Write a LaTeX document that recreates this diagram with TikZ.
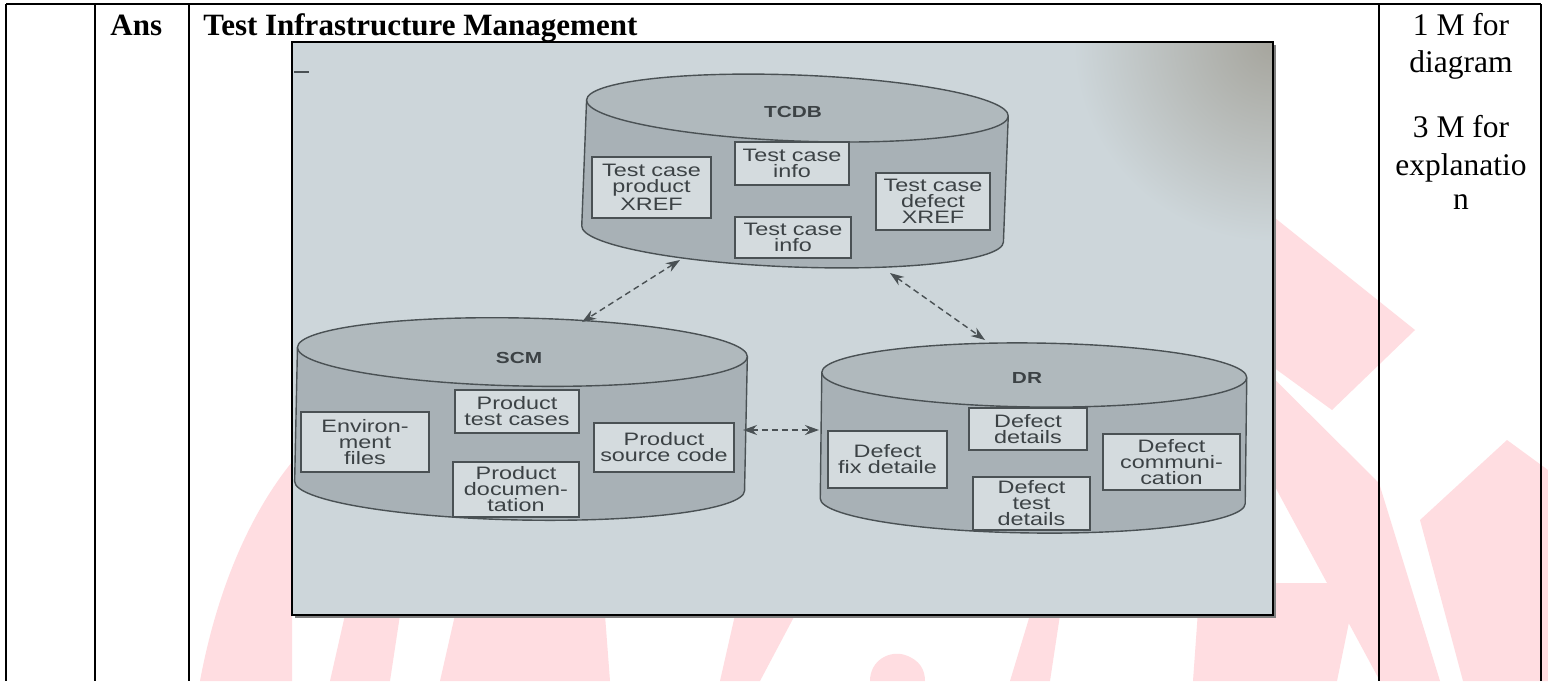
\documentclass[tikz,border=0pt]{standalone}
\usepackage{fontspec}
\setmainfont{Liberation Serif}
\newfontfamily\dfont[FakeStretch=1.3]{Liberation Sans}
\usetikzlibrary{arrows.meta}

\definecolor{wmark}{HTML}{FFDDE1}
\definecolor{photobg}{HTML}{CDD6DA}
\definecolor{photodark}{HTML}{A6A59D}
\definecolor{cylbody}{HTML}{A8B1B6}
\definecolor{cyltop}{HTML}{B0B9BD}
\definecolor{boxfill}{HTML}{D4DBDE}
\definecolor{ink}{HTML}{4A5154}
\definecolor{txt}{HTML}{3C4245}

\tikzset{
  rule/.style={line width=0.75pt, black},
  cylout/.style={draw=ink, line width=0.7pt},
  item/.style={draw=ink, fill=boxfill, line width=0.6pt, inner sep=0pt,
    align=center, text=txt, font=\dfont\fontsize{9pt}{8pt}\selectfont},
  dblabel/.style={text=txt, font=\dfont\bfseries\fontsize{8pt}{8pt}\selectfont},
  link/.style={draw=ink, line width=0.7pt, dash pattern=on 3pt off 2pt,
    {Stealth[length=7pt,width=5pt]}-{Stealth[length=7pt,width=5pt]}},
  head/.style={anchor=base west, inner sep=0pt, font=\bfseries\fontsize{15.5pt}{18pt}\selectfont},
  marktext/.style={anchor=base, inner sep=0pt, font=\fontsize{15.75pt}{18pt}\selectfont},
}

% cylinder: cx, y of top ellipse centre, y of bottom ellipse centre, half width (px), x radius (pt), y radius (pt), tilt (deg)
\newcommand\dbcyl[7]{%
  \begin{scope}[rotate around={#7:(#1,#2/2+#3/2)}]
  \fill[cylbody] (#1-#4,#2) rectangle (#1+#4,#3);
  \fill[cylbody] (#1,#3) ellipse [x radius=#5, y radius=#6];
  \draw[cylout] (#1-#4,#2) -- (#1-#4,#3)
     arc[start angle=180, end angle=360, x radius=#5, y radius=#6] -- (#1+#4,#2);
  \filldraw[cylout, fill=cyltop] (#1,#2) ellipse [x radius=#5, y radius=#6];
  \end{scope}
}

\begin{document}
\begin{tikzpicture}[x=0.5pt,y=-0.5pt]
\useasboundingbox (0,0) rectangle (1548,681);
\fill[white] (0,0) rectangle (1548,681);

% watermark shapes in the background
\fill[wmark] (200,681) .. controls (215,600) and (245,520) .. (292,462) -- (292,681) -- cycle;
\fill[wmark] (330,681) -- (345,615) -- (400,615) -- (390,681) -- cycle;
\fill[wmark] (440,681) -- (455,615) -- (605,615) -- (610,681) -- cycle;
\fill[wmark] (720,681) -- (735,615) -- (795,615) -- (760,681) -- cycle;
\fill[wmark] (870,681) .. controls (870,660) and (890,650) .. (905,655) .. controls (920,660) and (925,670) .. (925,681) -- cycle;
\fill[wmark] (1010,681) -- (1030,615) -- (1060,615) -- (1050,681) -- cycle;
\fill[wmark] (1240,190) -- (1415,330) -- (1332,410) -- (1273,367) -- (1240,335) -- cycle;
\fill[wmark] (1240,345) -- (1379,483) -- (1440,681) -- (1380,681) -- (1273,483) -- (1240,440) -- cycle;
\fill[wmark] (1420,520) -- (1507,440) -- (1548,470) -- (1548,681) -- (1463,681) -- cycle;
\fill[wmark] (1200,583) -- (1357,583) -- (1337,681) -- (1193,681) -- cycle;

% table rules
\draw[rule] (6,4) -- (1541,4);
\foreach \x in {6,95,189,1379,1541} \draw[rule] (\x,4) -- (\x,681);

% cell texts
\node[head] (ans) at (110,35) {Ans};
\node[head] (title) at (203,35) {Test Infrastructure Management};
\node[marktext] (m1a) at (1461,35) {1 M for};
\node[marktext] (m1b) at (1461,72) {diagram};
\node[marktext] (m3a) at (1461,137) {3 M for};
\node[marktext] (m3b) at (1461,175) {explanatio};
\node[marktext] (m3c) at (1461,209) {n};

% photographed figure
\fill[photobg] (292,42) rectangle (1273,615);
\begin{scope}
  \clip (292,42) rectangle (1273,615);
  \shade[inner color=photodark, outer color=photobg] (1273,42) circle (100pt);
\end{scope}
\draw[gray, line width=1pt] (295,617) -- (1275,617) -- (1275,45);
\draw[black, line width=1pt] (292,42) rectangle (1273,615);
\draw[ink, line width=0.7pt] (294,72) -- (309,72);

% databases
\dbcyl{795}{108}{234}{211}{105.5pt}{16.5pt}{-2.2}
\dbcyl{521}{352}{486}{225}{112.5pt}{17pt}{-1.2}
\dbcyl{1033.5}{375}{501}{212.5}{106.25pt}{16pt}{-0.7}

\node[dblabel] (tcdb) at (793,112) {TCDB};
\node[dblabel] (scm) at (519,358) {SCM};
\node[dblabel] (dr) at (1027,378) {DR};

% TCDB contents
\node[item, minimum width=59.5pt, minimum height=30.5pt] (tcpx) at (651.5,187.5) {Test case\\product\\XREF};
\node[item, minimum width=57pt, minimum height=21.5pt] (tci1) at (792,163.5) {Test case\\info};
\node[item, minimum width=58pt, minimum height=20.5pt] (tci2) at (793,237.5) {Test case\\info};
\node[item, minimum width=57pt, minimum height=28.5pt] (tcdx) at (933,201.5) {Test case\\defect\\XREF};

% SCM contents
\node[item, minimum width=64pt, minimum height=30pt] (env) at (365,442) {Environ-\\ment\\files};
\node[item, minimum width=62pt, minimum height=21.5pt] (ptc) at (517,411.5) {Product\\test cases};
\node[item, minimum width=63pt, minimum height=27.5pt] (pdoc) at (516,489.5) {Product\\documen-\\tation};
\node[item, minimum width=70pt, minimum height=24.5pt] (psc) at (664,447.5) {Product\\source code};

% DR contents
\node[item, minimum width=59.5pt, minimum height=28.5pt] (dfd) at (887.5,459.5) {Defect\\fix detaile};
\node[item, minimum width=59pt, minimum height=21pt] (dd) at (1028,429) {Defect\\details};
\node[item, minimum width=58.5pt, minimum height=26.5pt] (dtd) at (1031.5,503.5) {Defect\\test\\details};
\node[item, minimum width=68.5pt, minimum height=28pt] (dcom) at (1171.5,462) {Defect\\communi-\\cation};

% link end points on the cylinder walls
\coordinate (tcdbL) at (680,260);
\coordinate (tcdbR) at (890,273);
\coordinate (scmT) at (582,322);
\coordinate (scmR) at (743,430);
\coordinate (drT) at (985,340);
\coordinate (drL) at (819,430);

\draw[link] (tcdbL) -- (scmT);
\draw[link] (tcdbR) -- (drT);
\draw[link] (scmR) -- (drL);
\end{tikzpicture}
\end{document}
